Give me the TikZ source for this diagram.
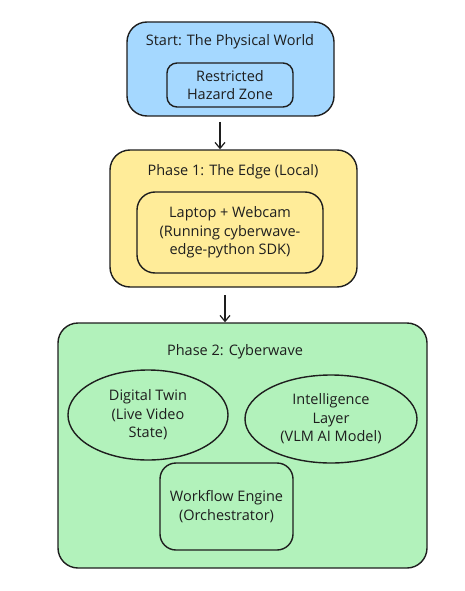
\documentclass[tikz,border=0pt]{standalone}
\usepackage{fontspec}
\setmainfont{Open Sans}
\usetikzlibrary{arrows.meta,shapes.geometric}
\definecolor{ink}{HTML}{1E1E1E}
\definecolor{fblue}{HTML}{A5D8FF}
\definecolor{fyellow}{HTML}{FFEC99}
\definecolor{fgreen}{HTML}{B2F2BB}
\tikzset{
  box/.style={draw=ink, line width=1.4pt, rounded corners=#1, inner sep=0pt},
  box/.default=10pt,
  oval/.style={draw=ink, line width=1.4pt, ellipse, inner sep=0pt},
  txt/.style={font=\fontsize{14.5}{18.5}\selectfont, text=ink, align=center, inner sep=0pt},
  arr/.style={draw=ink, line width=1.2pt, -{Straight Barb[length=6pt,width=10pt]}},
}
\begin{document}
\begin{tikzpicture}[x=1pt,y=-1pt]
\useasboundingbox (0,0) rectangle (464,591);
% blue
\node[box=20pt, fill=fblue, minimum width=207pt, minimum height=94pt] (world) at (230.5,69) {};
\node[txt] (worldt) at (230,42) {Start: The Physical World};
\node[box=10pt, minimum width=126pt, minimum height=44pt, txt] (zone) at (230,85) {Restricted\\Hazard Zone};
% yellow
\node[box=20pt, fill=fyellow, minimum width=247pt, minimum height=137pt] (edge) at (233.5,218.5) {};
\node[txt] (edget) at (233,172) {Phase 1: The Edge (Local)};
\node[box=18pt, minimum width=186pt, minimum height=81pt, txt] (laptop) at (230,232.5) {Laptop + Webcam\\(Running cyberwave-\\edge-python SDK)};
% green
\node[box=20pt, fill=fgreen, minimum width=369pt, minimum height=245pt] (cw) at (242.5,445.5) {};
\node[txt] (cwt) at (235,352) {Phase 2: Cyberwave};
\node[oval, minimum width=160pt, minimum height=90pt] (twin) at (148,415) {};
\node[txt] (twint) at (148,415) {Digital Twin\\(Live Video\\State)};
\node[oval, minimum width=172pt, minimum height=88pt] (intel) at (331,419) {};
\node[txt] (intelt) at (331,419) {Intelligence\\Layer\\(VLM AI Model)};
\node[box=16pt, minimum width=133pt, minimum height=87pt, txt] (wf) at (226.5,506.5) {Workflow Engine\\(Orchestrator)};
% arrows
\coordinate (a1s) at (220,122);
\coordinate (a2s) at (225,295);
\draw[arr] (a1s) -- (a1s |- edge.north);
\draw[arr] (a2s) -- (a2s |- cw.north);
\end{tikzpicture}
\end{document}
